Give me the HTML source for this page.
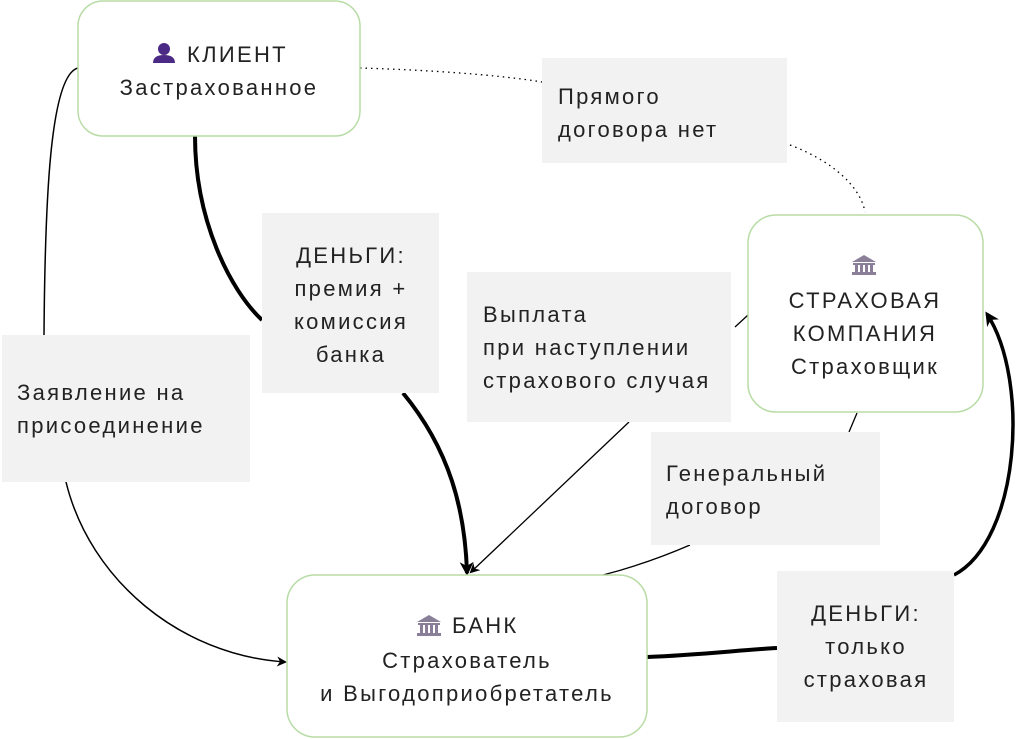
<!DOCTYPE html>
<html><head><meta charset="utf-8"><style>
html,body{margin:0;padding:0;background:#fff;width:1024px;height:739px;overflow:hidden}
text{font-family:"Liberation Sans","DejaVu Sans",sans-serif;font-size:22px;fill:#222;letter-spacing:2.3px}
</style></head><body>
<svg width="1024" height="739" viewBox="0 0 1024 739" xmlns="http://www.w3.org/2000/svg">
<defs>
<marker id="a" markerWidth="10" markerHeight="10" refX="8" refY="5" orient="auto" markerUnits="userSpaceOnUse"><path d="M0,0 L10,5 L0,10 L3,5 z" fill="#000"/></marker>
<marker id="b" markerWidth="14" markerHeight="14" refX="11" refY="7" orient="auto" markerUnits="userSpaceOnUse"><path d="M0,0 L14,7 L0,14 L4,7 z" fill="#000"/></marker>
</defs>
<path d="M78,68 C50,75 45,200 44,335" fill="none" stroke="#000" stroke-width="1.5"/>
<path d="M66,482 C90,580 180,655 285,662" fill="none" stroke="#000" stroke-width="1.5" marker-end="url(#a)"/>
<path d="M195,136 C195,220 230,290 262,320" fill="none" stroke="#000" stroke-width="4"/>
<path d="M403,393 C450,450 465,510 467,573" fill="none" stroke="#000" stroke-width="4" marker-end="url(#b)"/>
<path d="M360,68 C430,70 500,75 542,82" fill="none" stroke="#000" stroke-width="1.3" stroke-dasharray="1.5,4"/>
<path d="M790,145 C830,160 860,185 865,212" fill="none" stroke="#000" stroke-width="1.3" stroke-dasharray="1.5,4"/>
<path d="M748,315 L735,327" fill="none" stroke="#000" stroke-width="1.3"/>
<path d="M629,422 L471,572" fill="none" stroke="#000" stroke-width="1.3" marker-end="url(#a)"/>
<path d="M857,413 L849,432" fill="none" stroke="#000" stroke-width="1.3"/>
<path d="M690,545 C660,558 630,568 603,575" fill="none" stroke="#000" stroke-width="1.3"/>
<path d="M647,657 C700,655 740,650 777,648" fill="none" stroke="#000" stroke-width="4"/>
<path d="M954,575 C1020,540 1030,380 987,314" fill="none" stroke="#000" stroke-width="3.5" marker-end="url(#b)"/>
<rect x="78" y="1" width="282" height="135" rx="25" fill="#fff" stroke="#b8dca6" stroke-width="1.5"/>
<rect x="748" y="215" width="235" height="197" rx="28" fill="#fff" stroke="#b8dca6" stroke-width="1.5"/>
<rect x="287" y="575" width="360" height="162" rx="28" fill="#fff" stroke="#b8dca6" stroke-width="1.5"/>
<g fill="#f2f2f2">
<rect x="542" y="58" width="245" height="105"/>
<rect x="262" y="213" width="177" height="180"/>
<rect x="467" y="272" width="264" height="150"/>
<rect x="2" y="335" width="248" height="147"/>
<rect x="651" y="432" width="229" height="113"/>
<rect x="777" y="571" width="177" height="151"/>
</g>
<g fill="#4b2a85"><circle cx="164" cy="49" r="6"/><path d="M153,63 Q153,55 164,55 Q175,55 175,63 Z"/></g>
<g fill="#8a7f99"><path d="M852,262 L864,255 L876,262 Z"/><rect x="853" y="263" width="22" height="2"/><rect x="855" y="265" width="3" height="7"/><rect x="860" y="265" width="3" height="7"/><rect x="865" y="265" width="3" height="7"/><rect x="870" y="265" width="3" height="7"/><rect x="852" y="272" width="24" height="3"/></g>
<g fill="#8a7f99"><path d="M417,622 L429,615 L441,622 Z"/><rect x="418" y="623" width="22" height="2"/><rect x="420" y="625" width="3" height="8"/><rect x="425" y="625" width="3" height="8"/><rect x="430" y="625" width="3" height="8"/><rect x="435" y="625" width="3" height="8"/><rect x="417" y="633" width="24" height="3"/></g>
<text x="187" y="62">КЛИЕНТ</text>
<text x="219" y="95" text-anchor="middle">Застрахованное</text>
<text x="865" y="308" text-anchor="middle">СТРАХОВАЯ</text>
<text x="865" y="341" text-anchor="middle">КОМПАНИЯ</text>
<text x="865" y="374" text-anchor="middle">Страховщик</text>
<text x="452" y="633">БАНК</text>
<text x="467" y="668" text-anchor="middle">Страхователь</text>
<text x="467" y="701" text-anchor="middle">и Выгодоприобретатель</text>
<text x="558" y="104">Прямого</text>
<text x="558" y="137">договора нет</text>
<text x="351" y="263" text-anchor="middle">ДЕНЬГИ:</text>
<text x="351" y="296" text-anchor="middle">премия +</text>
<text x="351" y="329" text-anchor="middle">комиссия</text>
<text x="351" y="362" text-anchor="middle">банка</text>
<text x="483" y="322">Выплата</text>
<text x="483" y="355">при наступлении</text>
<text x="483" y="388">страхового случая</text>
<text x="17" y="400">Заявление на</text>
<text x="17" y="433">присоединение</text>
<text x="666" y="481">Генеральный</text>
<text x="666" y="514">договор</text>
<text x="866" y="621" text-anchor="middle">ДЕНЬГИ:</text>
<text x="866" y="654" text-anchor="middle">только</text>
<text x="866" y="687" text-anchor="middle">страховая</text>
</svg>
</body></html>
